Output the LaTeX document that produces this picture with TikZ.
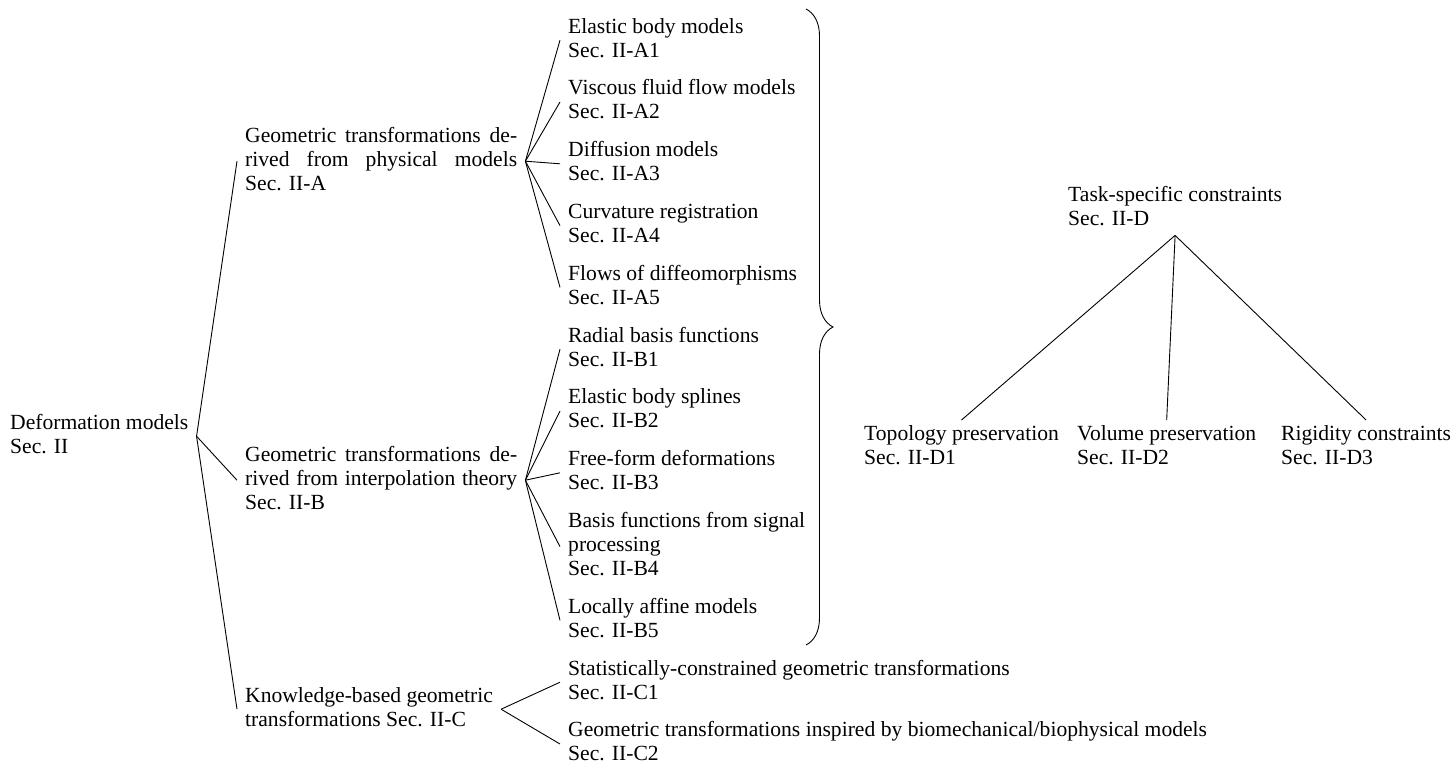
\documentclass[tikz,border=0pt]{standalone}
\usepackage{fontspec}
\setmainfont{Liberation Serif}
\usetikzlibrary{decorations.pathreplacing}
\newcommand\mytab[1]{\begin{tabular}[t]{@{}l@{}}#1\end{tabular}}
\newcommand\jline[1]{\makebox[272pt][s]{#1}}
\begin{document}
\begin{tikzpicture}[x=1pt,y=-1pt,
  lbl/.style={inner xsep=8pt, inner ysep=0pt, anchor=base west,
              font=\fontsize{21.6}{24}\selectfont},
  tlbl/.style={lbl, inner ysep=3pt},
  conn/.style={line width=0.9pt}]
\useasboundingbox (0,0) rectangle (1454,764);

% root and first level
\node[lbl] (root) at (2,429) {\mytab{Deformation models\\Sec. II}};
\node[lbl] (A) at (237,142) {\mytab{\jline{Geometric transformations de-}\\\jline{rived from physical models}\\Sec. II-A}};
\node[lbl] (B) at (237,461) {\mytab{\jline{Geometric transformations de-}\\\jline{rived from interpolation theory}\\Sec. II-B}};
\node[lbl] (C) at (237,702) {\mytab{Knowledge-based geometric\\transformations Sec. II-C}};

% children of A
\node[lbl] (A1) at (560,33)    {\mytab{Elastic body models\\Sec. II-A1}};
\node[lbl] (A2) at (560,94.8)  {\mytab{Viscous fluid flow models\\Sec. II-A2}};
\node[lbl] (A3) at (560,156.6) {\mytab{Diffusion models\\Sec. II-A3}};
\node[lbl] (A4) at (560,218.4) {\mytab{Curvature registration\\Sec. II-A4}};
\node[lbl] (A5) at (560,280.2) {\mytab{Flows of diffeomorphisms\\Sec. II-A5}};
% children of B
\node[lbl] (B1) at (560,342)   {\mytab{Radial basis functions\\Sec. II-B1}};
\node[lbl] (B2) at (560,403.8) {\mytab{Elastic body splines\\Sec. II-B2}};
\node[lbl] (B3) at (560,465.6) {\mytab{Free-form deformations\\Sec. II-B3}};
\node[lbl] (B4) at (560,527.4) {\mytab{Basis functions from signal\\processing\\Sec. II-B4}};
\node[lbl] (B5) at (560,613.2) {\mytab{Locally affine models\\Sec. II-B5}};
% children of C
\node[lbl] (C1) at (560,675)   {\mytab{Statistically-constrained geometric transformations\\Sec. II-C1}};
\node[lbl] (C2) at (560,736.8) {\mytab{Geometric transformations inspired by biomechanical/biophysical models\\Sec. II-C2}};

% task-specific subtree
\node[tlbl] (T)  at (1060,201) {\mytab{Task-specific constraints\\Sec. II-D}};
\node[tlbl] (T1) at (856,440)  {\mytab{Topology preservation\\Sec. II-D1}};
\node[tlbl] (T2) at (1069,440) {\mytab{Volume preservation\\Sec. II-D2}};
\node[tlbl] (T3) at (1273,440) {\mytab{Rigidity constraints\\Sec. II-D3}};

% connectors
\foreach \c in {A,B,C} \draw[conn] (root.east) -- (\c.west);
\foreach \c in {A1,A2,A3,A4,A5} \draw[conn] (A.east) -- (\c.west);
\foreach \c in {B1,B2,B3,B4,B5} \draw[conn] (B.east) -- (\c.west);
\foreach \c in {C1,C2} \draw[conn] (C.east) -- (\c.west);
\foreach \c in {T1,T2,T3} \draw[conn] (T.south) -- (\c.north);

% brace
\coordinate (brtop) at (806,9);
\coordinate (brbot) at (806,645);
\draw[conn, decorate, decoration={brace, amplitude=27pt}] (brtop) -- (brbot);
\end{tikzpicture}
\end{document}
